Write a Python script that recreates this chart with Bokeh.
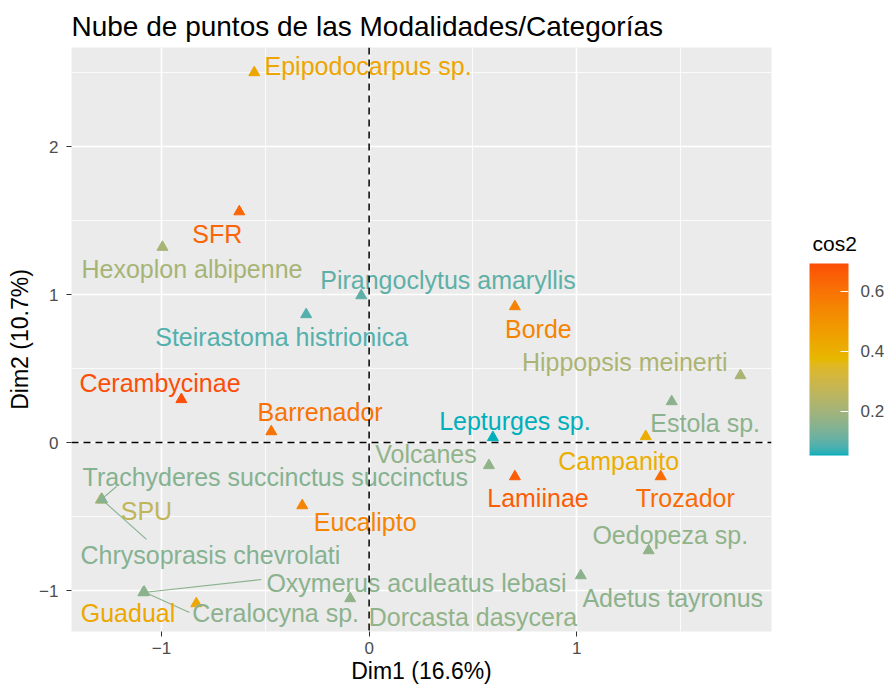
import numpy as np
from bokeh.plotting import figure
from bokeh.models import (ColumnDataSource, LinearColorMapper, ColorBar, FixedTicker,
                          Span, Range1d, Label)
from bokeh.transform import transform
from bokeh.core.properties import value
from bokeh.embed import file_html
from bokeh.resources import INLINE

# ---------------- data ----------------
names = ["Epipodocarpus sp.", "SFR", "Hexoplon albipenne", "Pirangoclytus amaryllis",
         "Steirastoma histrionica", "Borde", "Hippopsis meinerti", "Estola sp.",
         "Cerambycinae", "Barrenador", "Lepturges sp.", "Campanito", "Volcanes",
         "Lamiinae", "Trozador", "Trachyderes succinctus succinctus", "SPU",
         "Chrysoprasis chevrolati", "Eucalipto", "Oedopeza sp.", "Adetus tayronus",
         "Oxymerus aculeatus lebasi", "Guadual", "Ceralocyna sp.", "Dorcasta dasycera"]
dim1 = [-0.553, -0.625, -0.995, -0.038, -0.303, 0.702, 1.788, 1.457, -0.904, -0.471,
        0.596, 1.332, 0.577, 0.702, 1.404, -1.288, -1.292, -1.286, -0.322, 1.346,
        1.019, -1.087, -0.832, -1.083, -0.091]
dim2 = [2.500, 1.560, 1.320, 0.993, 0.865, 0.919, 0.453, 0.277, 0.291, 0.074,
        0.034, 0.041, -0.155, -0.230, -0.230, -0.383, -0.388, -0.386, -0.426, -0.730,
        -0.899, -1.014, -1.088, -1.010, -1.054]
cos2 = [0.44, 0.64, 0.21, 0.10, 0.09, 0.55, 0.22, 0.16, 0.693, 0.60,
        0.053, 0.41, 0.17, 0.66, 0.62, 0.15, 0.27, 0.15, 0.55, 0.17,
        0.16, 0.16, 0.43, 0.16, 0.17]

x_ticks = [-1, 0, 1]
y_ticks = [-1, 0, 1, 2]
cbar_ticks = [0.2, 0.4, 0.6]

# ---------------- layout of the repelled labels (data units) ----------------
label_x = [-0.005, -0.731, -0.853, 0.380, -0.421, 0.815, 1.231, 1.618, -1.007, -0.236,
           0.702, 1.202, 0.274, 0.813, 1.522, -0.452, -1.072, -0.764, -0.019, 1.450,
           1.462, 0.228, -1.161, -0.450, 0.500]
label_y = [2.541, 1.412, 1.169, 1.101, 0.716, 0.770, 0.541, 0.135, 0.405, 0.203,
           0.142, -0.122, -0.081, -0.372, -0.372, -0.230, -0.466, -0.757, -0.534, -0.622,
           -1.054, -0.946, -1.149, -1.149, -1.176]
seg_end = {"Trachyderes succinctus succinctus": (-1.216, -0.297),
           "Chrysoprasis chevrolati": (-1.072, -0.655),
           "Oxymerus aculeatus lebasi": (-0.519, -0.926),
           "Ceralocyna sp.": (-0.865, -1.149)}

# ---------------- colour palette (Lab interpolation like ggplot) ----------------
anchors = ["#00AFBB", "#E7B800", "#FC4E07"]

def _to_lin(c):
    c = c / 255.0
    return np.where(c <= 0.04045, c / 12.92, ((c + 0.055) / 1.055) ** 2.4)

def _from_lin(c):
    c = np.clip(c, 0, 1)
    return np.where(c <= 0.0031308, 12.92 * c, 1.055 * c ** (1 / 2.4) - 0.055) * 255

M = np.array([[0.4124, 0.3576, 0.1805], [0.2126, 0.7152, 0.0722], [0.0193, 0.1192, 0.9505]])
Minv = np.linalg.inv(M)
WP = np.array([0.95047, 1.0, 1.08883])

def hex_to_lab(h):
    rgb = np.array([int(h[i:i + 2], 16) for i in (1, 3, 5)], dtype=float)
    xyz = M @ _to_lin(rgb) / WP
    f = np.where(xyz > 0.008856, np.cbrt(xyz), 7.787 * xyz + 16 / 116)
    return np.array([116 * f[1] - 16, 500 * (f[0] - f[1]), 200 * (f[1] - f[2])])

def lab_to_hex(lab):
    fy = (lab[0] + 16) / 116
    fx = fy + lab[1] / 500
    fz = fy - lab[2] / 200
    f = np.array([fx, fy, fz])
    xyz = np.where(f ** 3 > 0.008856, f ** 3, (f - 16 / 116) / 7.787) * WP
    rgb = _from_lin(Minv @ xyz)
    return "#%02x%02x%02x" % tuple(int(round(v)) for v in rgb)

labs = [hex_to_lab(a) for a in anchors]
palette = []
for t in np.linspace(0, 1, 256):
    if t <= 0.5:
        u = t / 0.5
        lab = labs[0] * (1 - u) + labs[1] * u
    else:
        u = (t - 0.5) / 0.5
        lab = labs[1] * (1 - u) + labs[2] * u
    palette.append(lab_to_hex(lab))

mapper = LinearColorMapper(palette=palette, low=min(cos2), high=max(cos2))

# ---------------- figure ----------------
FONT = "Liberation Sans"
p = figure(width=886, height=686, output_backend="svg", toolbar_location=None,
           x_range=Range1d(-1.433, 1.9375), y_range=Range1d(-1.277, 2.669),
           min_border_left=71, min_border_right=115, min_border_top=47,
           min_border_bottom=50)
p.background_fill_color = "#EBEBEB"
p.border_fill_color = "white"
p.outline_line_color = None

p.title.text = "Nube de puntos de las Modalidades/Categorías"
p.title.text_font = FONT
p.title.text_font_size = "28px"
p.title.text_font_style = "normal"
p.title.text_color = "black"
p.title.align = "left"
p.title.standoff = 12

p.xaxis.ticker = FixedTicker(ticks=x_ticks, minor_ticks=[-1.5, -0.5, 0.5, 1.5])
p.yaxis.ticker = FixedTicker(ticks=y_ticks, minor_ticks=[-1.5, -0.5, 0.5, 1.5, 2.5])
p.xaxis.axis_label = "Dim1 (16.6%)"
p.yaxis.axis_label = "Dim2 (10.7%)"
for ax in (p.xaxis, p.yaxis):
    ax.axis_line_color = None
    ax.major_tick_line_color = "#333333"
    ax.major_tick_out = 5
    ax.major_tick_in = 0
    ax.minor_tick_line_color = None
    ax.major_label_text_font = FONT
    ax.major_label_text_font_size = "17px"
    ax.major_label_text_color = "#4D4D4D"
    ax.major_label_standoff = 5
    ax.axis_label_text_font = FONT
    ax.axis_label_text_font_size = "23px"
    ax.axis_label_text_font_style = "normal"
    ax.axis_label_text_color = "black"
    ax.axis_label_standoff = 1
p.yaxis.major_label_standoff = 8
p.yaxis.axis_label_standoff = 3

p.grid.grid_line_color = "white"
p.grid.grid_line_width = 1.6
p.grid.minor_grid_line_color = "white"
p.grid.minor_grid_line_width = 0.8

# reference lines at the origin
p.add_layout(Span(location=0, dimension="height", line_color="black",
                  line_width=1.5, line_dash="7 5"))
p.add_layout(Span(location=0, dimension="width", line_color="black",
                  line_width=1.5, line_dash="7 5"))

src = ColumnDataSource(dict(x=dim1, y=dim2, cos2=cos2, name=names,
                            lx=label_x, ly=label_y))

# segments from points to repelled labels
sx0, sy0, sx1, sy1, sc = [], [], [], [], []
for n, xx, yy, c in zip(names, dim1, dim2, cos2):
    if n in seg_end:
        sx0.append(xx); sy0.append(yy)
        sx1.append(seg_end[n][0]); sy1.append(seg_end[n][1]); sc.append(c)
seg_src = ColumnDataSource(dict(x0=sx0, y0=sy0, x1=sx1, y1=sy1, cos2=sc))
p.segment(x0="x0", y0="y0", x1="x1", y1="y1", source=seg_src,
          line_color=transform("cos2", mapper), line_width=1.1)

p.scatter(x="x", y="y", source=src, marker="triangle", size=11,
          fill_color=transform("cos2", mapper), line_color=transform("cos2", mapper))

p.text(x="lx", y="ly", text="name", source=src, text_color=transform("cos2", mapper),
       text_align="center", text_baseline="middle", text_font=value(FONT),
       text_font_size="25px")

cb = ColorBar(color_mapper=mapper, ticker=FixedTicker(ticks=cbar_ticks),
              width=39, height=192, orientation="vertical",
              major_label_text_font=FONT, major_label_text_font_size="17px",
              major_label_text_color="#4D4D4D", label_standoff=12,
              major_tick_line_color="white", major_tick_in=8, major_tick_out=0,
              bar_line_color=None, border_line_color=None,
              background_fill_color=None, padding=0, margin=0,
              location=(738, 176))
p.add_layout(cb)

# colour-bar title, horizontal above the bar (as in ggplot), in the right side panel
p.add_layout(Label(x=41, y=388, x_units="screen", y_units="screen", text="cos2",
                   text_font=FONT, text_font_size="21px", text_color="black",
                   text_baseline="alphabetic", text_align="left"), "right")

open("out.html", "w").write(file_html(p, INLINE))
